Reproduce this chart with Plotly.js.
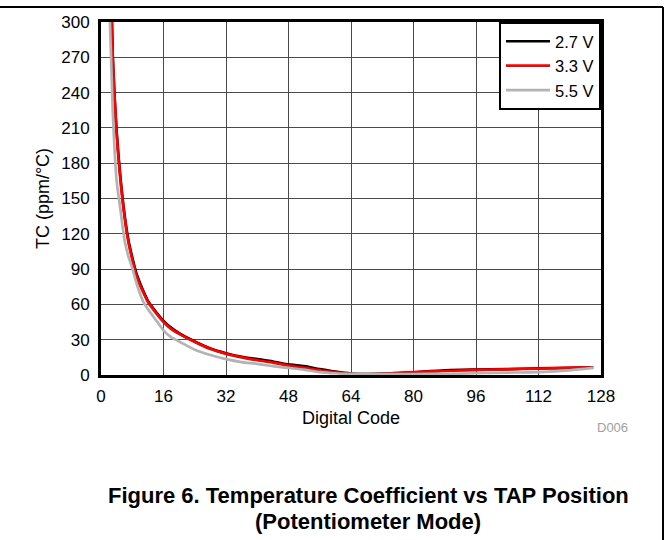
<!DOCTYPE html>
<html>
<head>
<meta charset="utf-8">
<script src="https://cdn.plot.ly/plotly-3.0.1.min.js"></script>
<style>
html,body{margin:0;padding:0;background:#fff;}
#chart{width:669px;height:540px;}
</style>
</head>
<body>
<div id="chart"></div>
<script>
// Digital code (x)
const codes = [2,3,4,5,6,7,8,9,10,11,12,14,16,18,20,24,28,32,36,40,44,48,52,56,60,64,68,72,76,80,88,96,104,112,120,126];
// TC (ppm/°C) per supply voltage
const tc27 = [410,272,207,167,137,115,100,87,78,70,63,54,46,40,35.5,28.5,22.5,18.5,15.5,13.5,11.5,9,7.5,5,2.8,1.2,0.8,1,1.6,2.3,4,4.6,5,5.6,6,6.5];
const tc33 = [400,270,205,165,135,113,98,85,76,69,62,53,45,39,35,28,22,18,15,12.5,10.5,8,6,4,2.2,1,0.8,1.2,1.7,2.2,3.4,4.2,4.8,5.5,6,6.5];
const tc55 = [330,225,165,140,115,101,91,79,69,61,56,47,38,32,28.5,21.5,17,13.5,11,9.5,7.5,6,4.5,2.5,1.5,1,0.8,0.8,0.8,0.8,1,1.5,2,2.5,4,6];
const seriesNames = ["2.7 V","3.3 V","5.5 V"];
const seriesColors = ["#000000","#ff0000","#b3b3b3"];
const xTicks = [0,16,32,48,64,80,96,112,128];
const yTicks = [0,30,60,90,120,150,180,210,240,270,300];

const font = "Liberation Sans, Arial, sans-serif";
const ys = [tc27, tc33, tc55];
const traces = ys.map((y,i)=>({
  x: codes, y: y, type:"scatter", mode:"lines", name: seriesNames[i],
  line:{color: seriesColors[i], width: 2.7, shape:"spline", smoothing:0.6}
}));

// pixel helpers for paper coordinates
const L=101, R=601, T=22, B=375;
const px = v => (v - L)/(R - L);
const py = v => (B - v)/(B - T);

const layout = {
  width:669, height:540,
  margin:{l:L, r:669-R, t:T, b:540-B, pad:0},
  paper_bgcolor:"#fff", plot_bgcolor:"#fff",
  font:{family:font, size:17, color:"#000"},
  showlegend:true,
  legend:{x:1, y:1, xanchor:"right", yanchor:"top", bgcolor:"#fff",
          bordercolor:"#000", borderwidth:2, font:{family:font, size:16.5, color:"#000"},
          tracegroupgap:0, itemwidth:44},
  xaxis:{range:[0,128], tickvals:xTicks, ticktext:xTicks.map(String),
         showgrid:true, gridcolor:"#4a4a4a", gridwidth:1, zeroline:false,
         showline:true, linecolor:"#000", linewidth:3, mirror:true,
         ticks:"outside", ticklen:4, tickcolor:"rgba(0,0,0,0)",
         tickfont:{family:font, size:17, color:"#000"},
         title:{text:"Digital Code", font:{family:font, size:18, color:"#000"}, standoff:6},
         fixedrange:true},
  yaxis:{range:[0,300], tickvals:yTicks, ticktext:yTicks.map(String),
         showgrid:true, gridcolor:"#4a4a4a", gridwidth:1, zeroline:false,
         showline:true, linecolor:"#000", linewidth:3, mirror:true,
         ticks:"outside", ticklen:5, tickcolor:"rgba(0,0,0,0)",
         tickfont:{family:font, size:17, color:"#000"},
         title:{text:"TC (ppm/°C)", font:{family:font, size:18, color:"#000"}, standoff:7},
         fixedrange:true},
  shapes:[
    {type:"line", xref:"paper", yref:"paper", x0:px(0), x1:px(663), y0:py(7), y1:py(7), line:{color:"#000", width:2}},
    {type:"line", xref:"paper", yref:"paper", x0:px(663), x1:px(663), y0:py(7), y1:py(540), line:{color:"#000", width:2}}
  ],
  annotations:[
    {xref:"paper", yref:"paper", x:px(612), y:py(427), text:"D006", showarrow:false,
     font:{family:font, size:13, color:"#a0a0a0"}, xanchor:"center", yanchor:"middle"},
    {xref:"paper", yref:"paper", x:px(368), y:py(495), text:"<b>Figure 6. Temperature Coefficient vs TAP Position</b>", showarrow:false,
     font:{family:font, size:22, color:"#000"}, xanchor:"center", yanchor:"middle"},
    {xref:"paper", yref:"paper", x:px(368), y:py(521), text:"<b>(Potentiometer Mode)</b>", showarrow:false,
     font:{family:font, size:22, color:"#000"}, xanchor:"center", yanchor:"middle"}
  ]
};
Plotly.newPlot("chart", traces, layout, {displayModeBar:false, staticPlot:true});
</script>
</body>
</html>
